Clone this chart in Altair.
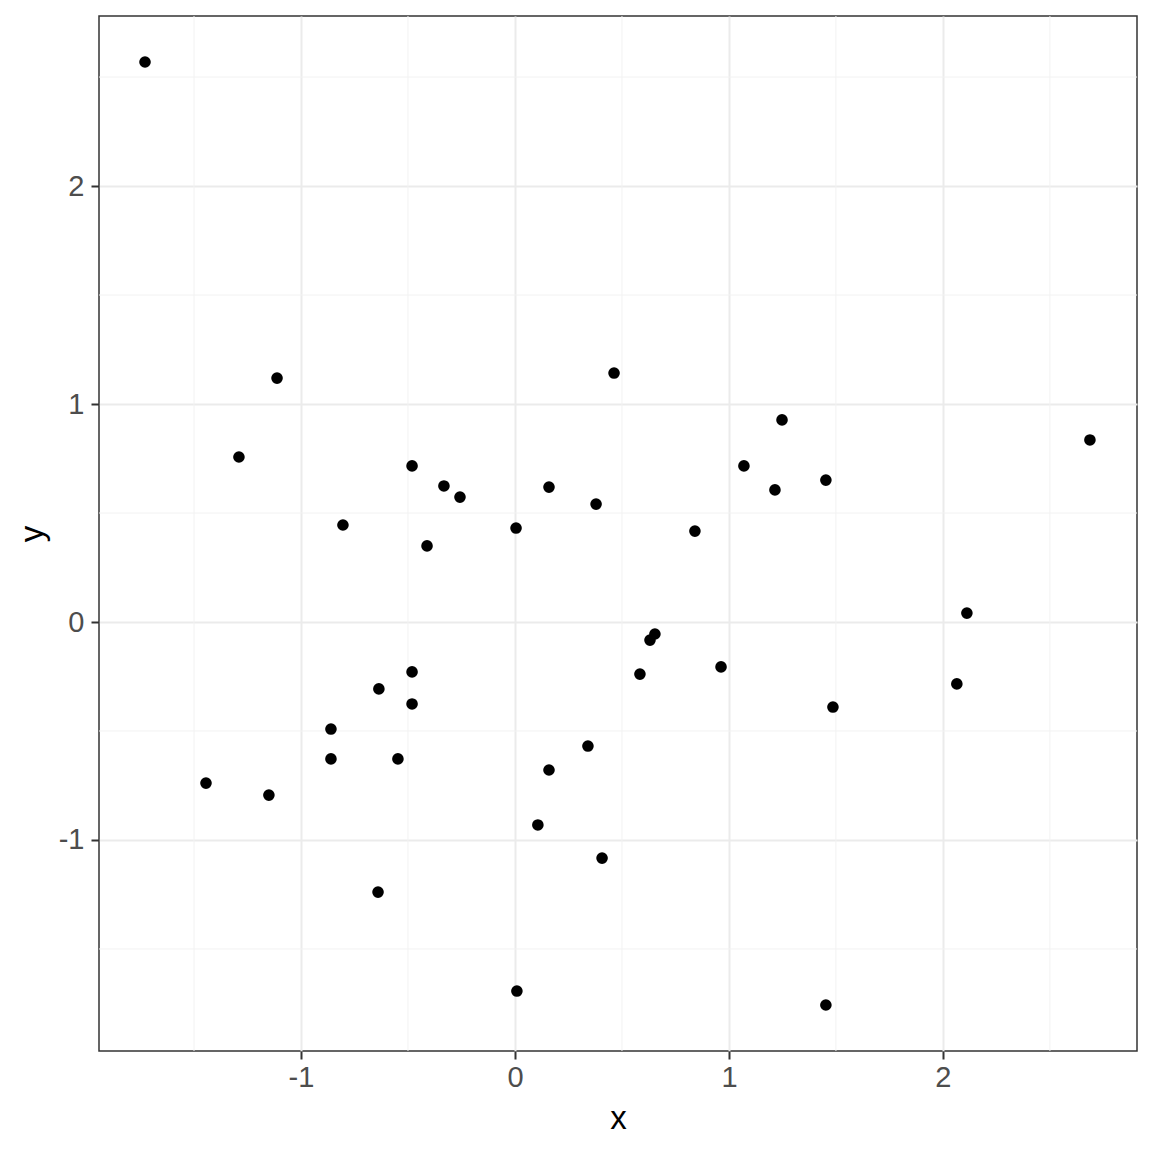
import altair as alt
import pandas as pd

xs = [-1.729, -1.112, -1.290, -0.804, -0.481, -0.332, -0.257, -0.411, 0.005, 0.159,
      0.379, 0.463, 0.841, 1.070, 1.215, 1.248, 1.453, 2.687, 2.112, 2.065,
      1.486, 0.963, 0.654, 0.631, 0.584, -0.481, -0.481, -0.636, -0.860, -0.860,
      -0.547, -1.444, -1.150, 0.341, 0.159, 0.107, 0.407, -0.640, 0.009, 1.453]
ys = [2.569, 1.119, 0.757, 0.445, 0.716, 0.624, 0.573, 0.349, 0.431, 0.619,
      0.541, 1.142, 0.417, 0.716, 0.606, 0.927, 0.651, 0.835, 0.041, -0.284,
      -0.390, -0.206, -0.055, -0.083, -0.239, -0.229, -0.376, -0.307, -0.491, -0.628,
      -0.628, -0.739, -0.794, -0.569, -0.679, -0.931, -1.083, -1.239, -1.693, -1.757]

x_major = [-1, 0, 1, 2]
y_major = [-1, 0, 1, 2]
x_minor = [-1.5, -0.5, 0.5, 1.5, 2.5]
y_minor = [-1.5, -0.5, 0.5, 1.5, 2.5]

x_domain = [-1.944, 2.907]
y_domain = [-1.968, 2.780]

df = pd.DataFrame({"x": xs, "y": ys})
xminor_df = pd.DataFrame({"v": x_minor})
yminor_df = pd.DataFrame({"v": y_minor})

FONT = "Liberation Sans"

xscale = alt.Scale(domain=x_domain, nice=False, zero=False)
yscale = alt.Scale(domain=y_domain, nice=False, zero=False)

common = dict(grid=True, gridColor="#EBEBEB", gridWidth=2,
              tickColor="#333333", tickWidth=2, tickSize=8, domain=False,
              labelFont=FONT, labelFontSize=29, labelColor="#4D4D4D",
              titleFont=FONT, titleFontSize=33, titleFontWeight="normal", titleColor="#000000",
              labelExpr="'' + datum.value")

xaxis = alt.Axis(values=x_major, title="x", labelPadding=4, titlePadding=10, **common)
yaxis = alt.Axis(values=y_major, title="y", labelPadding=7, titlePadding=9, **common)

minor_x = alt.Chart(xminor_df).mark_rule(color="#F2F2F2", strokeWidth=1).encode(
    x=alt.X("v:Q", scale=xscale, axis=xaxis))
minor_y = alt.Chart(yminor_df).mark_rule(color="#F2F2F2", strokeWidth=1).encode(
    y=alt.Y("v:Q", scale=yscale, axis=yaxis))

points = alt.Chart(df).mark_circle(color="#000000", opacity=1, size=135).encode(
    x=alt.X("x:Q", scale=xscale, axis=xaxis),
    y=alt.Y("y:Q", scale=yscale, axis=yaxis),
)

chart = alt.layer(minor_x, minor_y, points).properties(
    width=1038, height=1035,
    background="white",
    autosize=alt.AutoSizeParams(type="none"),
    padding={"left": 91, "top": 8, "right": 4, "bottom": 90},
).configure_view(stroke="#333333", strokeWidth=1.5)

chart.save("out.html", embed_options={"renderer": "svg", "actions": False})
